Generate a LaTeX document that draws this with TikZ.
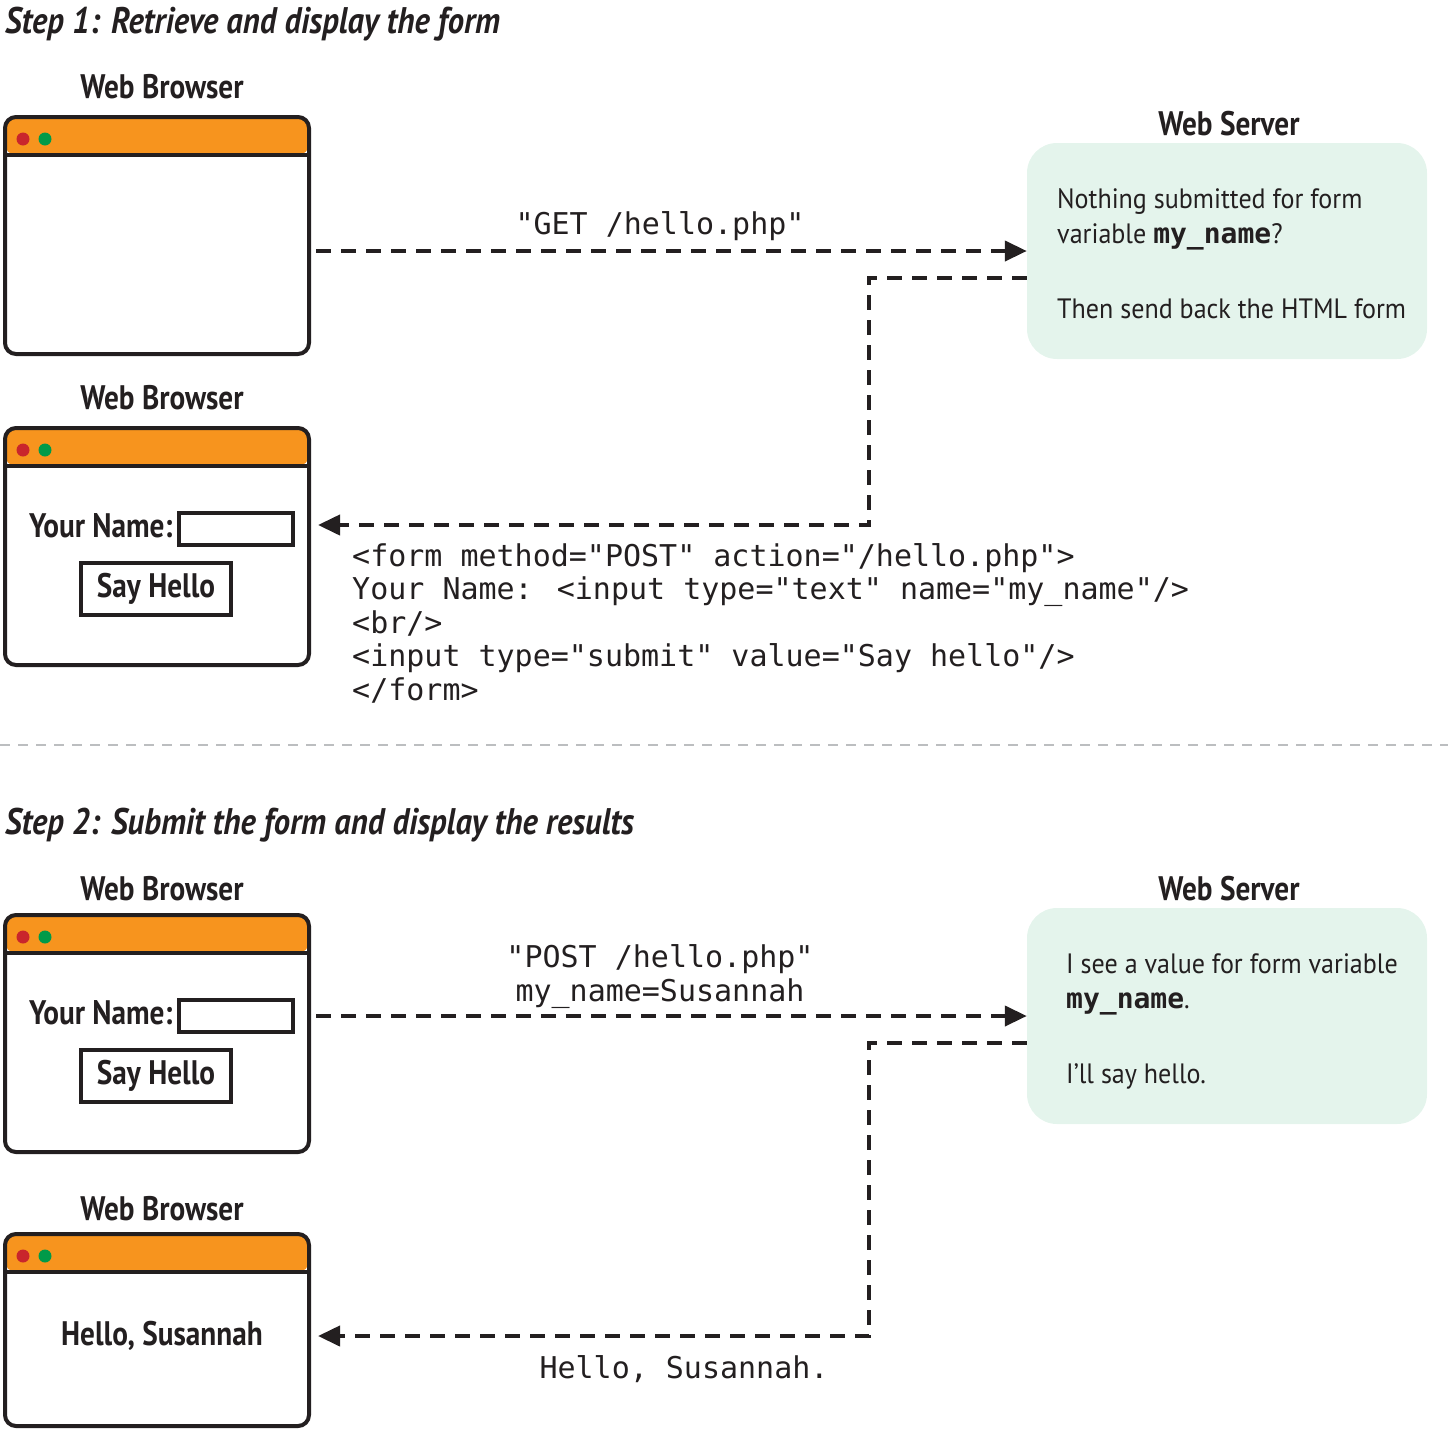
\documentclass[tikz,border=0pt]{standalone}
\usepackage{fontspec}
\setmainfont{PT Sans}
\newfontfamily\condreg[FakeStretch=0.93]{PT Sans}
\newfontfamily\condbf[FakeStretch=0.86]{PT Sans}
\newfontfamily\condti[FakeStretch=0.88]{PT Sans}
\newfontfamily\mono{DejaVu Sans Mono}
\usetikzlibrary{arrows.meta,calc}
\definecolor{ink}{HTML}{231F20}
\definecolor{barorange}{HTML}{F7941E}
\definecolor{dotred}{HTML}{C9252C}
\definecolor{dotgreen}{HTML}{009A49}
\definecolor{srvfill}{HTML}{E4F4EC}
\definecolor{sepgray}{HTML}{BCBEC0}
\tikzset{
  browser/.style={draw=ink, fill=white, line width=4pt, rounded corners=11pt,
    minimum width=304pt, minimum height=237pt, inner sep=0pt,
    path picture={
      \fill[barorange] (path picture bounding box.north west) rectangle ([yshift=-38pt]path picture bounding box.north east);
      \draw[ink, line width=4pt, sharp corners] ([yshift=-38pt]path picture bounding box.north west) -- ([yshift=-38pt]path picture bounding box.north east);
      \fill[dotred] ([xshift=18pt,yshift=-22pt]path picture bounding box.north west) circle[radius=6.5pt];
      \fill[dotgreen] ([xshift=40pt,yshift=-22pt]path picture bounding box.north west) circle[radius=6.5pt];
    }},
  server/.style={fill=srvfill, rounded corners=30pt, minimum width=400pt, minimum height=216pt, inner sep=0pt},
  lbl/.style={font=\fontsize{34}{40}\selectfont\condbf\bfseries, text=ink, inner sep=0pt, anchor=base},
  ttl/.style={font=\fontsize{37}{42}\selectfont\condti\bfseries\itshape, text=ink, inner sep=0pt, anchor=base west},
  srvtxt/.style={font=\fontsize{28}{35}\selectfont\condreg, text=ink, inner sep=0pt, anchor=base west, align=left},
  code/.style={font=\fontsize{30}{33.4}\selectfont\mono, text=ink, inner sep=0pt},
  inbox/.style={draw=ink, line width=3.5pt, minimum width=114pt, minimum height=32pt, inner sep=0pt},
  btn/.style={draw=ink, line width=4pt, minimum width=150pt, minimum height=52pt, inner sep=0pt,
    font=\fontsize{34}{40}\selectfont\condbf\bfseries, text=ink},
  flow/.style={draw=ink, line width=4pt, dash pattern=on 15pt off 10pt,
    -{Triangle[length=22pt,width=20pt]}},
  sepline/.style={draw=sepgray, line width=2pt, dash pattern=on 10pt off 8pt}
}
\newcommand{\bmono}[1]{{\mono\bfseries #1}}
\begin{document}
\begin{tikzpicture}[x=1pt,y=-1pt]
\useasboundingbox (0,0) rectangle (1448,1430);

% ---------- Step 1 ----------
\node[ttl] (title1) at (5,33) {Step 1: Retrieve and display the form};

\node[lbl] (wb1) at (162,98) {Web Browser};
\node[browser] (b1) at (157,235.5) {};

\node[lbl] (wb2) at (162,409) {Web Browser};
\node[browser] (b2) at (157,546.5) {};
\node[lbl, anchor=base west] (yn1) at (29,537) {Your Name:};
\node[inbox] (in1) at (236,529) {};
\node[btn] (sh1) at (156,589) {Say Hello};

\node[lbl] (ws1) at (1229,135) {Web Server};
\node[server] (s1) at (1227,251) {};
\node[srvtxt] (s1a) at (1057,243) {Nothing submitted for form\\variable \bmono{my\_name}?};
\node[srvtxt] (s1b) at (1057,318) {Then send back the HTML form};

\node[code, anchor=base] (get) at (660,234) {"GET /hello.php"};
\draw[flow] ($(b1.east |- s1.west)+(5,0)$) -- (s1.west);

\coordinate (turn1) at (869,525);
\draw[flow] ($(s1.west)+(0,27)$) -| (turn1) -- ($(b2.east |- turn1)+(7,0)$);

\node[code, anchor=base west, align=left] (form) at (352,700)
  {<form method="POST" action="/hello.php">\\
   Your Name: <input type="text" name="my\_name"/>\\
   <br/>\\
   <input type="submit" value="Say hello"/>\\
   </form>};

% ---------- separator ----------
\draw[sepline] (0,745) -- (1448,745);

% ---------- Step 2 ----------
\node[ttl] (title2) at (5,834) {Step 2: Submit the form and display the results};

\node[lbl] (wb3) at (162,900) {Web Browser};
\node[browser] (b3) at (157,1033.5) {};
\node[lbl, anchor=base west] (yn2) at (29,1024) {Your Name:};
\node[inbox] (in2) at (236,1016) {};
\node[btn] (sh2) at (156,1076) {Say Hello};

\node[lbl] (wb4) at (162,1220) {Web Browser};
\node[browser, minimum height=192pt] (b4) at (157,1330) {};
\node[lbl] (hs) at (162,1345) {Hello, Susannah};

\node[lbl] (ws2) at (1229,900) {Web Server};
\node[server] (s2) at (1227,1016) {};
\node[srvtxt] (s2a) at (1066,1008) {I see a value for form variable\\\bmono{my\_name}.};
\node[srvtxt] (s2b) at (1066,1083) {I’ll say hello.};

\node[code, anchor=base, align=center] (post) at (660,1001) {"POST /hello.php"\\my\_name=Susannah};
\draw[flow] ($(b3.east |- s2.west)+(5,0)$) -- (s2.west);

\coordinate (turn2) at (869,1336);
\draw[flow] ($(s2.west)+(0,27)$) -| (turn2) -- ($(b4.east |- turn2)+(7,0)$);
\node[code, anchor=base] (reply) at (684,1378) {Hello, Susannah.};
\end{tikzpicture}
\end{document}
